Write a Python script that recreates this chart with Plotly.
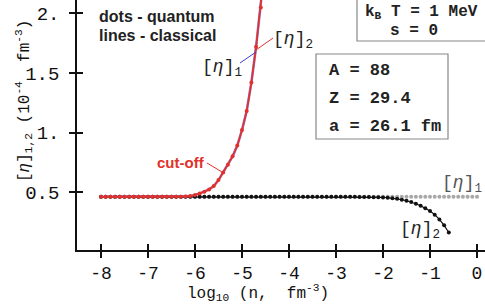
import plotly.graph_objects as go

# ---------------- data ----------------
log_n_classical = [-8.0, -7.9, -7.8, -7.7, -7.6, -7.5, -7.4, -7.3, -7.2, -7.1,
                   -7.0, -6.9, -6.8, -6.7, -6.6, -6.5, -6.4, -6.3, -6.2, -6.1,
                   -6.0, -5.9, -5.8, -5.7, -5.6, -5.5, -5.4, -5.3, -5.2, -5.1,
                   -5.0, -4.9, -4.8, -4.7, -4.6, -4.5]
eta2_classical = [0.46, 0.46, 0.46, 0.46, 0.46, 0.46, 0.46, 0.46, 0.46, 0.46,
                  0.46, 0.46, 0.46, 0.46, 0.46, 0.46, 0.46, 0.46, 0.462, 0.466,
                  0.475, 0.488, 0.503, 0.522, 0.55, 0.6, 0.665, 0.73, 0.8, 0.89,
                  1.02, 1.18, 1.42, 1.72, 2.05, 2.45]
eta1_classical = [0.46, 0.46, 0.46, 0.46, 0.46, 0.46, 0.46, 0.46, 0.46, 0.46,
                  0.46, 0.46, 0.46, 0.46, 0.46, 0.46, 0.46, 0.46, 0.462, 0.466,
                  0.475, 0.488, 0.503, 0.522, 0.55, 0.6, 0.665, 0.73, 0.8, 0.89,
                  1.02, 1.18, 1.42, 1.72, 2.05, 2.45]

log_n_quantum1 = [-8.0, -7.9, -7.8, -7.7, -7.6, -7.5, -7.4, -7.3, -7.2, -7.1,
                  -7.0, -6.9, -6.8, -6.7, -6.6, -6.5, -6.4, -6.3, -6.2, -6.1,
                  -6.0, -5.9, -5.8, -5.7, -5.6, -5.5, -5.4, -5.3, -5.2, -5.1,
                  -5.0, -4.9, -4.8, -4.7, -4.6, -4.5, -4.4, -4.3, -4.2, -4.1,
                  -4.0, -3.9, -3.8, -3.7, -3.6, -3.5, -3.4, -3.3, -3.2, -3.1,
                  -3.0, -2.9, -2.8, -2.7, -2.6, -2.5, -2.4, -2.3, -2.2, -2.1,
                  -2.0, -1.9, -1.8, -1.7, -1.6, -1.5, -1.4, -1.3, -1.2, -1.1,
                  -1.0, -0.9, -0.8, -0.7, -0.6, -0.5, -0.4, -0.3, -0.2, -0.1, 0.0]
eta1_quantum = [0.46, 0.46, 0.46, 0.46, 0.46, 0.46, 0.46, 0.46, 0.46, 0.46,
                0.46, 0.46, 0.46, 0.46, 0.46, 0.46, 0.46, 0.46, 0.46, 0.46,
                0.46, 0.46, 0.46, 0.46, 0.46, 0.46, 0.46, 0.46, 0.46, 0.46,
                0.46, 0.46, 0.46, 0.46, 0.46, 0.46, 0.46, 0.46, 0.46, 0.46,
                0.46, 0.46, 0.46, 0.46, 0.46, 0.46, 0.46, 0.46, 0.46, 0.46,
                0.46, 0.46, 0.46, 0.46, 0.46, 0.46, 0.46, 0.46, 0.46, 0.46,
                0.46, 0.46, 0.46, 0.46, 0.46, 0.46, 0.46, 0.46, 0.46, 0.46,
                0.46, 0.46, 0.46, 0.46, 0.46, 0.46, 0.46, 0.46, 0.46, 0.46, 0.46]

log_n_quantum2 = [-8.0, -7.9, -7.8, -7.7, -7.6, -7.5, -7.4, -7.3, -7.2, -7.1,
                  -7.0, -6.9, -6.8, -6.7, -6.6, -6.5, -6.4, -6.3, -6.2, -6.1,
                  -6.0, -5.9, -5.8, -5.7, -5.6, -5.5, -5.4, -5.3, -5.2, -5.1,
                  -5.0, -4.9, -4.8, -4.7, -4.6, -4.5, -4.4, -4.3, -4.2, -4.1,
                  -4.0, -3.9, -3.8, -3.7, -3.6, -3.5, -3.4, -3.3, -3.2, -3.1,
                  -3.0, -2.9, -2.8, -2.7, -2.6, -2.5, -2.4, -2.3, -2.2, -2.1,
                  -2.0, -1.9, -1.8, -1.7, -1.6, -1.5, -1.4, -1.3, -1.2, -1.1,
                  -1.0, -0.9, -0.8, -0.7, -0.6]
eta2_quantum = [0.46, 0.46, 0.46, 0.46, 0.46, 0.46, 0.46, 0.46, 0.46, 0.46,
                0.46, 0.46, 0.46, 0.46, 0.46, 0.46, 0.46, 0.46, 0.46, 0.46,
                0.46, 0.46, 0.46, 0.46, 0.46, 0.46, 0.46, 0.46, 0.46, 0.46,
                0.46, 0.46, 0.46, 0.46, 0.46, 0.46, 0.46, 0.46, 0.46, 0.46,
                0.46, 0.46, 0.46, 0.46, 0.46, 0.46, 0.46, 0.46, 0.46, 0.46,
                0.46, 0.46, 0.46, 0.46, 0.46, 0.459, 0.459, 0.458, 0.457, 0.456,
                0.455, 0.452, 0.448, 0.443, 0.436, 0.427, 0.416, 0.402, 0.385, 0.364,
                0.34, 0.31, 0.27, 0.22, 0.16]

x_ticks = [-8, -7, -6, -5, -4, -3, -2, -1, 0]
x_tick_labels = ["-8", "-7", "-6", "-5", "-4", "-3", "-2", "-1", "0"]
y_ticks = [0.5, 1.0, 1.5, 2.0]
y_tick_labels = ["0.5", "1.", "1.5", "2."]

# ---------------- figure ----------------
W, H = 485, 306
L, R, T, B = 77, 0, 0, 56
PW, PH = W - L - R, H - T - B

def px(xp):
    return (xp - L) / PW

def py(yp):
    return (T + PH - yp) / PH

RED = "#e2312b"
BLUE = "#3d3dd0"
MONO = "Courier New, Liberation Mono, monospace"
SANS = "Arial, Liberation Sans, sans-serif"

fig = go.Figure()

fig.add_trace(go.Scatter(x=log_n_quantum1, y=eta1_quantum, mode="markers",
                         marker=dict(color="#a8a8a8", size=4), showlegend=False))
fig.add_trace(go.Scatter(x=log_n_quantum2, y=eta2_quantum, mode="lines+markers",
                         line=dict(color="#111111", width=1.2),
                         marker=dict(color="#111111", size=4), showlegend=False))
fig.add_trace(go.Scatter(x=log_n_classical, y=eta1_classical, mode="lines",
                         line=dict(color=BLUE, width=2.6), opacity=0.6,
                         showlegend=False))
fig.add_trace(go.Scatter(x=log_n_classical, y=eta2_classical, mode="lines+markers",
                         line=dict(color=RED, width=1.8),
                         marker=dict(color=RED, size=4), showlegend=False))

# dummy trace for the inner-tick overlay axes
fig.add_trace(go.Scatter(x=[None], y=[None], xaxis="x2", yaxis="y2",
                         showlegend=False, hoverinfo="skip"))

xr = [-8.51, 0.17]
yr = [0.013, 2.113]
axfont = dict(family=MONO, size=19, color="#111")

fig.update_layout(
    width=W, height=H,
    margin=dict(l=L, r=R, t=T, b=B, pad=0),
    paper_bgcolor="white", plot_bgcolor="white",
    xaxis=dict(range=xr, showgrid=False, zeroline=False, showline=True,
               linecolor="#111", linewidth=1.5, ticks="outside", ticklen=6,
               tickwidth=1.5, tickcolor="#111", tickvals=x_ticks,
               ticktext=x_tick_labels, tickfont=dict(family=MONO, size=18, color="#111"),
               ticklabelstandoff=0),
    yaxis=dict(range=yr, showgrid=False, zeroline=False, showline=True,
               linecolor="#111", linewidth=1.5, ticks="outside", ticklen=6,
               tickwidth=1.5, tickcolor="#111", tickvals=y_ticks,
               ticktext=y_tick_labels, tickfont=axfont, ticklabelstandoff=6),
    xaxis2=dict(range=xr, overlaying="x", anchor="y2", showgrid=False,
                zeroline=False, showline=False, ticks="inside", ticklen=6,
                tickwidth=1.5, tickcolor="#111", tickvals=x_ticks,
                showticklabels=False, side="bottom"),
    yaxis2=dict(range=yr, overlaying="y", anchor="x2", showgrid=False,
                zeroline=False, showline=False, ticks="inside", ticklen=6,
                tickwidth=1.5, tickcolor="#111", tickvals=y_ticks,
                showticklabels=False, side="left"),
)

ann = []
def text(x, y, s, font, xanchor="center", yanchor="middle"):
    ann.append(dict(x=px(x), y=py(y), xref="paper", yref="paper", text=s,
                    showarrow=False, font=font, xanchor=xanchor, yanchor=yanchor))

# axis titles
ann.append(dict(x=px(11), y=py(101), xref="paper", yref="paper",
                text="[<i>η</i>]<sub>1,2</sub> (10<sup>-4</sup>  fm<sup>-3</sup>)",
                textangle=-90, showarrow=False,
                font=dict(family=MONO, size=16, color="#111")))
text(258, 293, "log<sub>10</sub> (n,  fm<sup>-3</sup>)",
     dict(family=MONO, size=16, color="#111"))

# legend-ish text
sans_b = dict(family=SANS, size=16, color="#222", weight="bold")
text(97, 17, "dots - quantum", sans_b, xanchor="left")
text(97, 35, "lines - classical", sans_b, xanchor="left")

# boxes
mono_b = dict(family=MONO, size=16, color="#222", weight="bold")
text(421, 12, "k<sub>B</sub> T = 1 MeV", mono_b)
text(414, 31, "s = 0", mono_b)
mono_b17 = dict(family=MONO, size=17, color="#222", weight="bold")
text(327, 70, "A = 88", mono_b17, xanchor="left")
text(327, 98, "Z = 29.4", mono_b17, xanchor="left")
text(327, 126, "a = 26.1 fm", mono_b17, xanchor="left")

# curve labels
lab = dict(family=MONO, size=18, color="#222")
text(222, 68, "[<i>η</i>]<sub>1</sub>", lab)
text(293, 40, "[<i>η</i>]<sub>2</sub>", lab)
text(462, 184, "[<i>η</i>]<sub>1</sub>", dict(family=MONO, size=18, color="#555"))
text(420, 230, "[<i>η</i>]<sub>2</sub>", lab)
text(181, 162, "cut-off", dict(family=SANS, size=15, color=RED, weight="bold"))

fig.update_layout(annotations=ann)

shapes = [
    dict(type="rect", xref="paper", yref="paper", x0=px(357), x1=px(487),
         y0=py(41), y1=py(-2), line=dict(color="#888", width=1.2)),
    dict(type="rect", xref="paper", yref="paper", x0=px(316), x1=px(448),
         y0=py(139), y1=py(54), line=dict(color="#888", width=1.2)),
    dict(type="line", xref="paper", yref="paper", x0=px(240), y0=py(63),
         x1=px(256), y1=py(52), line=dict(color=BLUE, width=1)),
    dict(type="line", xref="paper", yref="paper", x0=px(256), y0=py(50),
         x1=px(273), y1=py(38), line=dict(color=RED, width=1)),
    dict(type="line", xref="paper", yref="paper", x0=px(207), y0=py(163),
         x1=px(222), y1=py(172), line=dict(color=RED, width=1)),
]
fig.update_layout(shapes=shapes)

fig.write_html("out.html", config={"displayModeBar": False},
               post_script="document.body.style.margin='0';document.body.style.overflow='hidden';")
